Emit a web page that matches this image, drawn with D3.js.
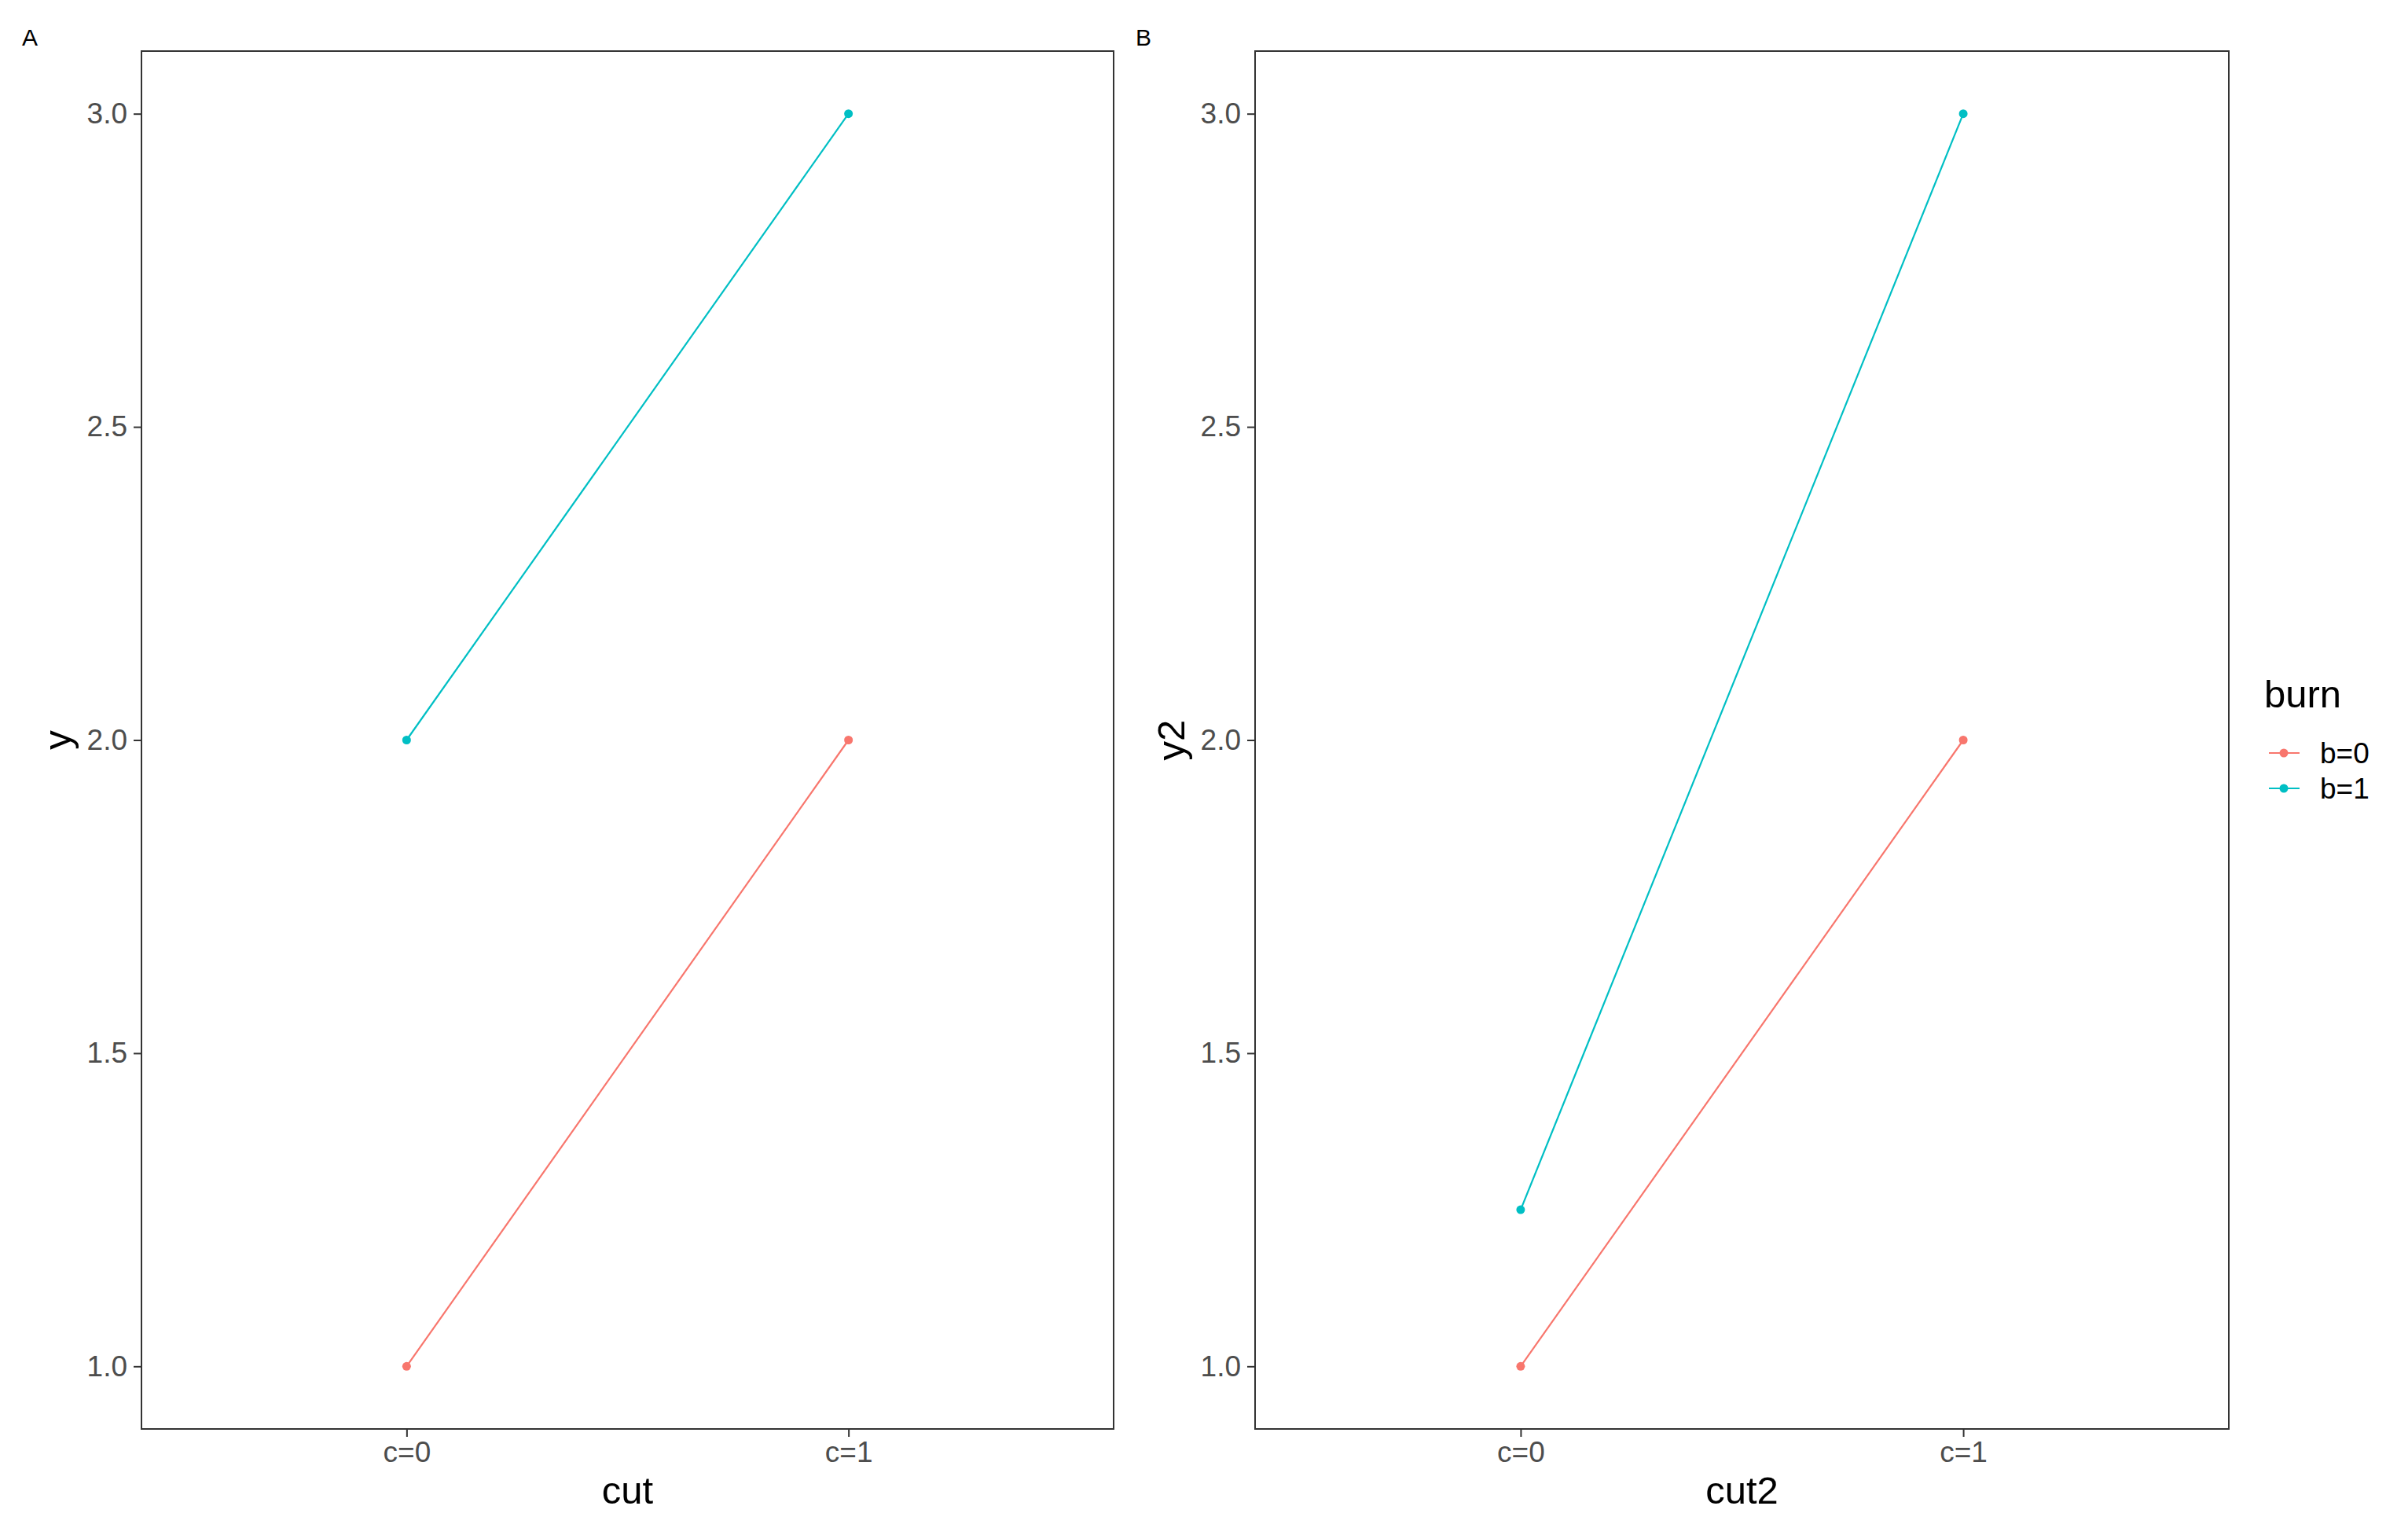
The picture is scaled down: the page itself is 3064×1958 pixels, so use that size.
<!DOCTYPE html>
<html><head><meta charset="utf-8">
<script src="https://cdn.jsdelivr.net/npm/d3@7"></script>
<style>body{margin:0;background:#fff}text{font-family:"Liberation Sans",Arial,sans-serif}</style>
</head><body>
<svg id="c" width="3064" height="1958"></svg>
<script>
const categories = ["c=0","c=1"];
const groups = ["b=0","b=1"];
const colors = ["#F8766D","#00BFC4"];
const yTicks = [1.0,1.5,2.0,2.5,3.0];
const panelA_b0 = [1,2];
const panelA_b1 = [2,3];
const panelB_b0 = [1,2];
const panelB_b1 = [1.25,3];

const svg = d3.select("#c");
svg.append("rect").attr("width",3064).attr("height",1958).attr("fill","#fff");

function panel(tag, left, right, xTitle, yTitle, series){
  const top=65, bottom=1818;
  const g = svg.append("g");
  const x = d3.scaleLinear().domain([0.4,2.6]).range([left,right]);
  const y = d3.scaleLinear().domain([0.9,3.1]).range([bottom,top]);
  g.append("rect").attr("x",left).attr("y",top).attr("width",right-left).attr("height",bottom-top)
    .attr("fill","none").attr("stroke","#333").attr("stroke-width",2);
  const ya = g.append("g").attr("transform",`translate(${left},0)`)
    .call(d3.axisLeft(y).tickValues(yTicks).tickFormat(d3.format(".1f")).tickSize(10).tickPadding(8));
  const xa = g.append("g").attr("transform",`translate(0,${bottom})`)
    .call(d3.axisBottom(x).tickValues([1,2]).tickFormat((d,i)=>categories[i]).tickSize(10).tickPadding(6));
  [ya,xa].forEach(a=>{a.select(".domain").remove();
    a.selectAll("line").attr("stroke","#333").attr("stroke-width",2);
    a.selectAll("text").attr("font-size",37).attr("fill","#4D4D4D").attr("font-family","Liberation Sans, Arial, sans-serif");});
  g.append("text").attr("x",(left+right)/2).attr("y",1913).attr("text-anchor","middle").attr("font-size",49).text(xTitle);
  g.append("text").attr("transform",`translate(${left-90},${(top+bottom)/2}) rotate(-90)`).attr("text-anchor","middle").attr("font-size",49).text(yTitle);
  g.append("text").attr("x",left-152).attr("y",58).attr("font-size",30).text(tag);
  series.forEach((s,i)=>{
    const pts = s.map((v,j)=>[x(j+1),y(v)]);
    g.append("path").attr("d",d3.line()(pts)).attr("stroke",colors[i]).attr("stroke-width",2.2).attr("fill","none");
    g.selectAll(null).data(pts).enter().append("circle").attr("cx",d=>d[0]).attr("cy",d=>d[1]).attr("r",5.5).attr("fill",colors[i]);
  });
}
panel("A",180,1417,"cut","y",[panelA_b0,panelA_b1]);
panel("B",1597,2836,"cut2","y2",[panelB_b0,panelB_b1]);

const lg = svg.append("g");
lg.append("text").attr("x",2881).attr("y",900).attr("font-size",49).text("burn");
groups.forEach((gname,i)=>{
  const yy = 958 + i*45;
  lg.append("line").attr("x1",2887).attr("x2",2926).attr("y1",yy).attr("y2",yy).attr("stroke",colors[i]).attr("stroke-width",2.2);
  lg.append("circle").attr("cx",2906).attr("cy",yy).attr("r",5.5).attr("fill",colors[i]);
  lg.append("text").attr("x",2952).attr("y",yy+13).attr("font-size",37).text(gname);
});
</script>
</body></html>
